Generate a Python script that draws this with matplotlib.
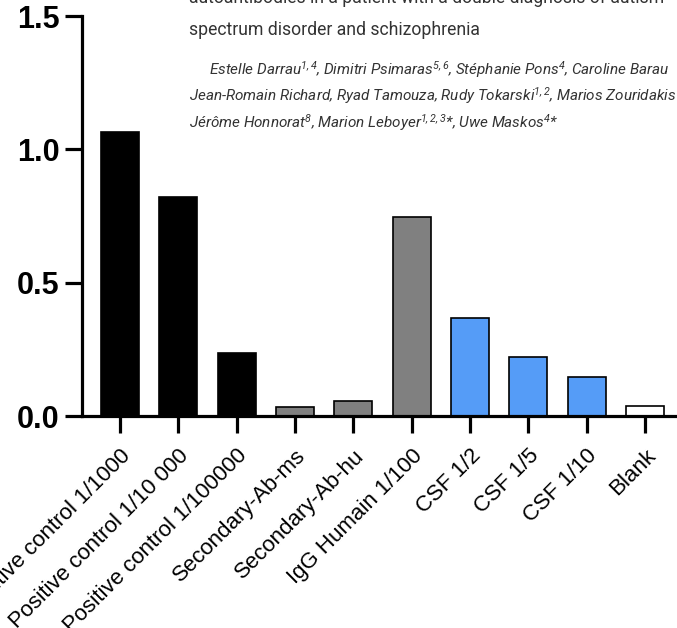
import matplotlib.pyplot as plt

plt.rcParams['mathtext.fontset'] = 'custom'
plt.rcParams['mathtext.rm'] = 'Roboto:italic'
plt.rcParams['mathtext.it'] = 'Roboto:italic'

categories = ['Positive control 1/1000', 'Positive control 1/10 000',
              'Positive control 1/100000', 'Secondary-Ab-ms', 'Secondary-Ab-hu',
              'IgG Humain 1/100', 'CSF 1/2', 'CSF 1/5', 'CSF 1/10', 'Blank']
values = [1.065, 0.82, 0.236, 0.035, 0.058, 0.748, 0.368, 0.222, 0.148, 0.036]
colors = ['black', 'black', 'black', '#808080', '#808080', '#808080',
          '#559cf7', '#559cf7', '#559cf7', 'white']
yticks = [0.0, 0.5, 1.0, 1.5]

fig = plt.figure(figsize=(6.77, 6.28), dpi=100)
ax = fig.add_axes([82 / 677, 1 - 416 / 628, 1 - 82 / 677, 400 / 628])

x = list(range(len(categories)))
ax.bar(x, values, width=0.65, color=colors, edgecolor='black', linewidth=1.2, zorder=2)

ax.set_xlim(-0.65, 9.55)
ax.set_ylim(0, 1.5)
ax.set_yticks(yticks)
ax.set_yticklabels([f'{v:.1f}' for v in yticks], fontsize=22, fontweight='bold',
                   family='Liberation Sans')
ax.set_xticks(x)
ax.set_xticklabels(categories, rotation=45, ha='right', va='top', rotation_mode='anchor',
                   fontsize=16, family='Liberation Sans')

for s in ['top', 'right']:
    ax.spines[s].set_visible(False)
for s in ['left', 'bottom']:
    ax.spines[s].set_linewidth(2.3)
ax.tick_params(axis='both', width=2.3, length=12)
ax.tick_params(axis='y', pad=4)
ax.tick_params(axis='x', pad=9)

# header text from the page overlaid on the chart
hc = '#333333'
fig.text(189 / 677, 1 - 3 / 628, 'autoantibodies in a patient with a double diagnosis of autism',
         fontsize=12.7, family='Roboto', color=hc, va='baseline')
fig.text(189 / 677, 1 - 35 / 628, 'spectrum disorder and schizophrenia',
         fontsize=12.7, family='Roboto', color=hc, va='baseline')
authors = [
    (209, 75, r'Estelle Darrau$^{1,4}$, Dimitri Psimaras$^{5,6}$, Stéphanie Pons$^{4}$, Caroline Barau'),
    (189, 101, r'Jean-Romain Richard, Ryad Tamouza, Rudy Tokarski$^{1,2}$, Marios Zouridakis'),
    (189, 128, r'Jérôme Honnorat$^{8}$, Marion Leboyer$^{1,2,3}$*, Uwe Maskos$^{4}$*'),
]
for px, py, t in authors:
    fig.text(px / 677, 1 - py / 628, t, fontsize=11, family='Roboto', style='italic',
             color=hc, va='baseline')

fig.savefig('out.png', dpi=100)
